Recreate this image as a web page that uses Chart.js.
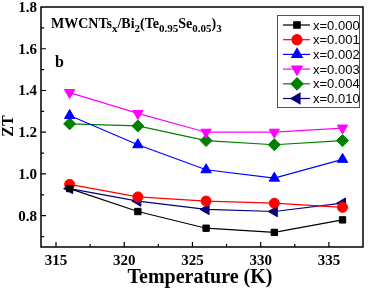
<!DOCTYPE html>
<html>
<head>
<meta charset="utf-8">
<script src="https://cdn.jsdelivr.net/npm/chart.js@4"></script>
<style>
  html, body { margin: 0; padding: 0; background: #fff; }
  #wrap { width: 371px; height: 289px; }
</style>
</head>
<body>
<div id="wrap"><canvas id="ztChart" width="371" height="289"></canvas></div>
<script>
/* ===== ZT vs temperature ===== */

const temps = [316, 321, 326, 331, 336];
const seriesNames = ['x=0.000', 'x=0.001', 'x=0.002', 'x=0.003', 'x=0.004', 'x=0.010'];
const zt000 = [0.93, 0.82, 0.74, 0.72, 0.78];
const zt001 = [0.95, 0.89, 0.87, 0.86, 0.84];
const zt002 = [1.28, 1.14, 1.02, 0.98, 1.07];
const zt003 = [1.39, 1.29, 1.20, 1.20, 1.22];
const zt004 = [1.24, 1.23, 1.16, 1.14, 1.16];
const zt010 = [0.93, 0.87, 0.83, 0.82, 0.86];
const xTicks = [315, 320, 325, 330, 335];
const yTicks = [0.8, 1.0, 1.2, 1.4, 1.6, 1.8];

const serif = '"Liberation Serif", "Times New Roman", serif';
const sans = '"Liberation Sans", Arial, sans-serif';

const styles = [
  { color: '#000000', point: 'rect', rot: 0, r: 4.5 },
  { color: '#ff0000', point: 'circle', rot: 0, r: 5 },
  { color: '#0000ff', point: 'triangle', rot: 0, r: 6 },
  { color: '#ff00ff', point: 'triangle', rot: 180, r: 6 },
  { color: '#008000', point: 'rectRot', rot: 0, r: 6 },
  { color: '#000080', point: 'triangle', rot: -90, r: 6 }
];
const allValues = [zt000, zt001, zt002, zt003, zt004, zt010];

const datasets = allValues.map((vals, i) => ({
  label: seriesNames[i],
  data: vals.map((v, j) => ({ x: temps[j], y: v })),
  borderColor: styles[i].color,
  backgroundColor: styles[i].color,
  borderWidth: 1.2,
  pointStyle: styles[i].point,
  pointRotation: styles[i].rot,
  pointRadius: styles[i].r,
  pointBorderWidth: 1,
  tension: 0
}));

// frame, inward ticks, tick labels, titles, legend
const decorations = {
  id: 'decorations',
  afterDraw(chart) {
    const ctx = chart.ctx;
    const a = chart.chartArea;
    const xs = chart.scales.x, ys = chart.scales.y;
    ctx.save();
    ctx.strokeStyle = '#000';
    ctx.lineWidth = 1.5;
    ctx.strokeRect(a.left, a.top, a.right - a.left, a.bottom - a.top);

    ctx.lineWidth = 1.2;
    ctx.beginPath();
    for (let t = 312.5; t <= 337.5; t += 2.5) {
      const px = xs.getPixelForValue(t);
      if (px <= a.left + 1 || px >= a.right - 1) continue;
      const len = (t % 5 === 0) ? 5 : 3;
      ctx.moveTo(px, a.bottom); ctx.lineTo(px, a.bottom - len);
    }
    for (let k = 7; k <= 18; k++) {
      const py = ys.getPixelForValue(k / 10);
      if (py <= a.top + 1 || py >= a.bottom - 1) continue;
      const len = (k % 2 === 0) ? 5 : 3;
      ctx.moveTo(a.left, py); ctx.lineTo(a.left + len, py);
    }
    ctx.stroke();

    ctx.fillStyle = '#000';
    ctx.font = 'bold 15px ' + serif;
    ctx.textAlign = 'center';
    ctx.textBaseline = 'top';
    xTicks.forEach(v => ctx.fillText(String(v), xs.getPixelForValue(v), a.bottom + 7));
    ctx.textAlign = 'right';
    ctx.textBaseline = 'middle';
    yTicks.forEach(v => ctx.fillText(v.toFixed(1), a.left - 4, ys.getPixelForValue(v) + 1));

    ctx.textAlign = 'center';
    ctx.textBaseline = 'alphabetic';
    ctx.font = 'bold 20px ' + serif;
    ctx.fillText('Temperature (K)', (a.left + a.right) / 2 - 2, 283);
    ctx.save();
    ctx.translate(8, (a.top + a.bottom) / 2 - 1);
    ctx.rotate(-Math.PI / 2);
    ctx.font = 'bold 16px ' + serif;
    ctx.textBaseline = 'middle';
    ctx.fillText('ZT', 0, 1);
    ctx.restore();

    // title with subscripts
    ctx.textAlign = 'left';
    const parts = [
      ['MWCNTs', 0], ['x', 1], ['/Bi', 0], ['2', 1], ['(Te', 0], ['0.95', 1],
      ['Se', 0], ['0.05', 1], [')', 0], ['3', 1]
    ];
    let tx = 51;
    const base = 28;
    parts.forEach(([s, sub]) => {
      ctx.font = sub ? 'bold 11px ' + serif : 'bold 14px ' + serif;
      ctx.fillText(s, tx, base + (sub ? 4 : 0));
      tx += ctx.measureText(s).width;
    });
    ctx.font = 'bold 16px ' + serif;
    ctx.fillText('b', 55, 67);

    // legend box
    const lx = 277, ly = 15, lw = 82, lh = 92;
    ctx.fillStyle = '#fff';
    ctx.fillRect(lx, ly, lw, lh);
    ctx.strokeStyle = '#555';
    ctx.lineWidth = 1;
    ctx.strokeRect(lx + 0.5, ly + 0.5, lw, lh);
    ctx.font = '13px ' + sans;
    ctx.textBaseline = 'middle';
    chart.data.datasets.forEach((ds, i) => {
      const y = 25 + i * 14.7;
      ctx.strokeStyle = ds.borderColor;
      ctx.lineWidth = 1.2;
      ctx.beginPath();
      ctx.moveTo(283, y); ctx.lineTo(310, y);
      ctx.stroke();
      ctx.fillStyle = ds.backgroundColor;
      Chart.helpers.drawPoint(ctx, {
        pointStyle: ds.pointStyle, rotation: ds.pointRotation,
        radius: ds.pointRadius, borderWidth: 1
      }, 297, y);
      ctx.fillStyle = '#000';
      ctx.fillText(ds.label, 313, y + 1);
    });
    ctx.restore();
  }
};

new Chart(document.getElementById('ztChart'), {
  type: 'line',
  data: { datasets },
  plugins: [decorations],
  options: {
    responsive: false,
    animation: false,
    layout: { padding: { left: 41, right: 8, top: 7, bottom: 42 } },
    plugins: { legend: { display: false }, tooltip: { enabled: false } },
    scales: {
      x: {
        type: 'linear', min: 313.9, max: 337.5,
        afterFit: s => { s.height = 0; },
        grid: { display: false, drawTicks: false },
        border: { display: false },
        ticks: { display: false }
      },
      y: {
        type: 'linear', min: 0.65, max: 1.8,
        afterFit: s => { s.width = 0; },
        grid: { display: false, drawTicks: false },
        border: { display: false },
        ticks: { display: false }
      }
    }
  }
});
</script>
</body>
</html>
